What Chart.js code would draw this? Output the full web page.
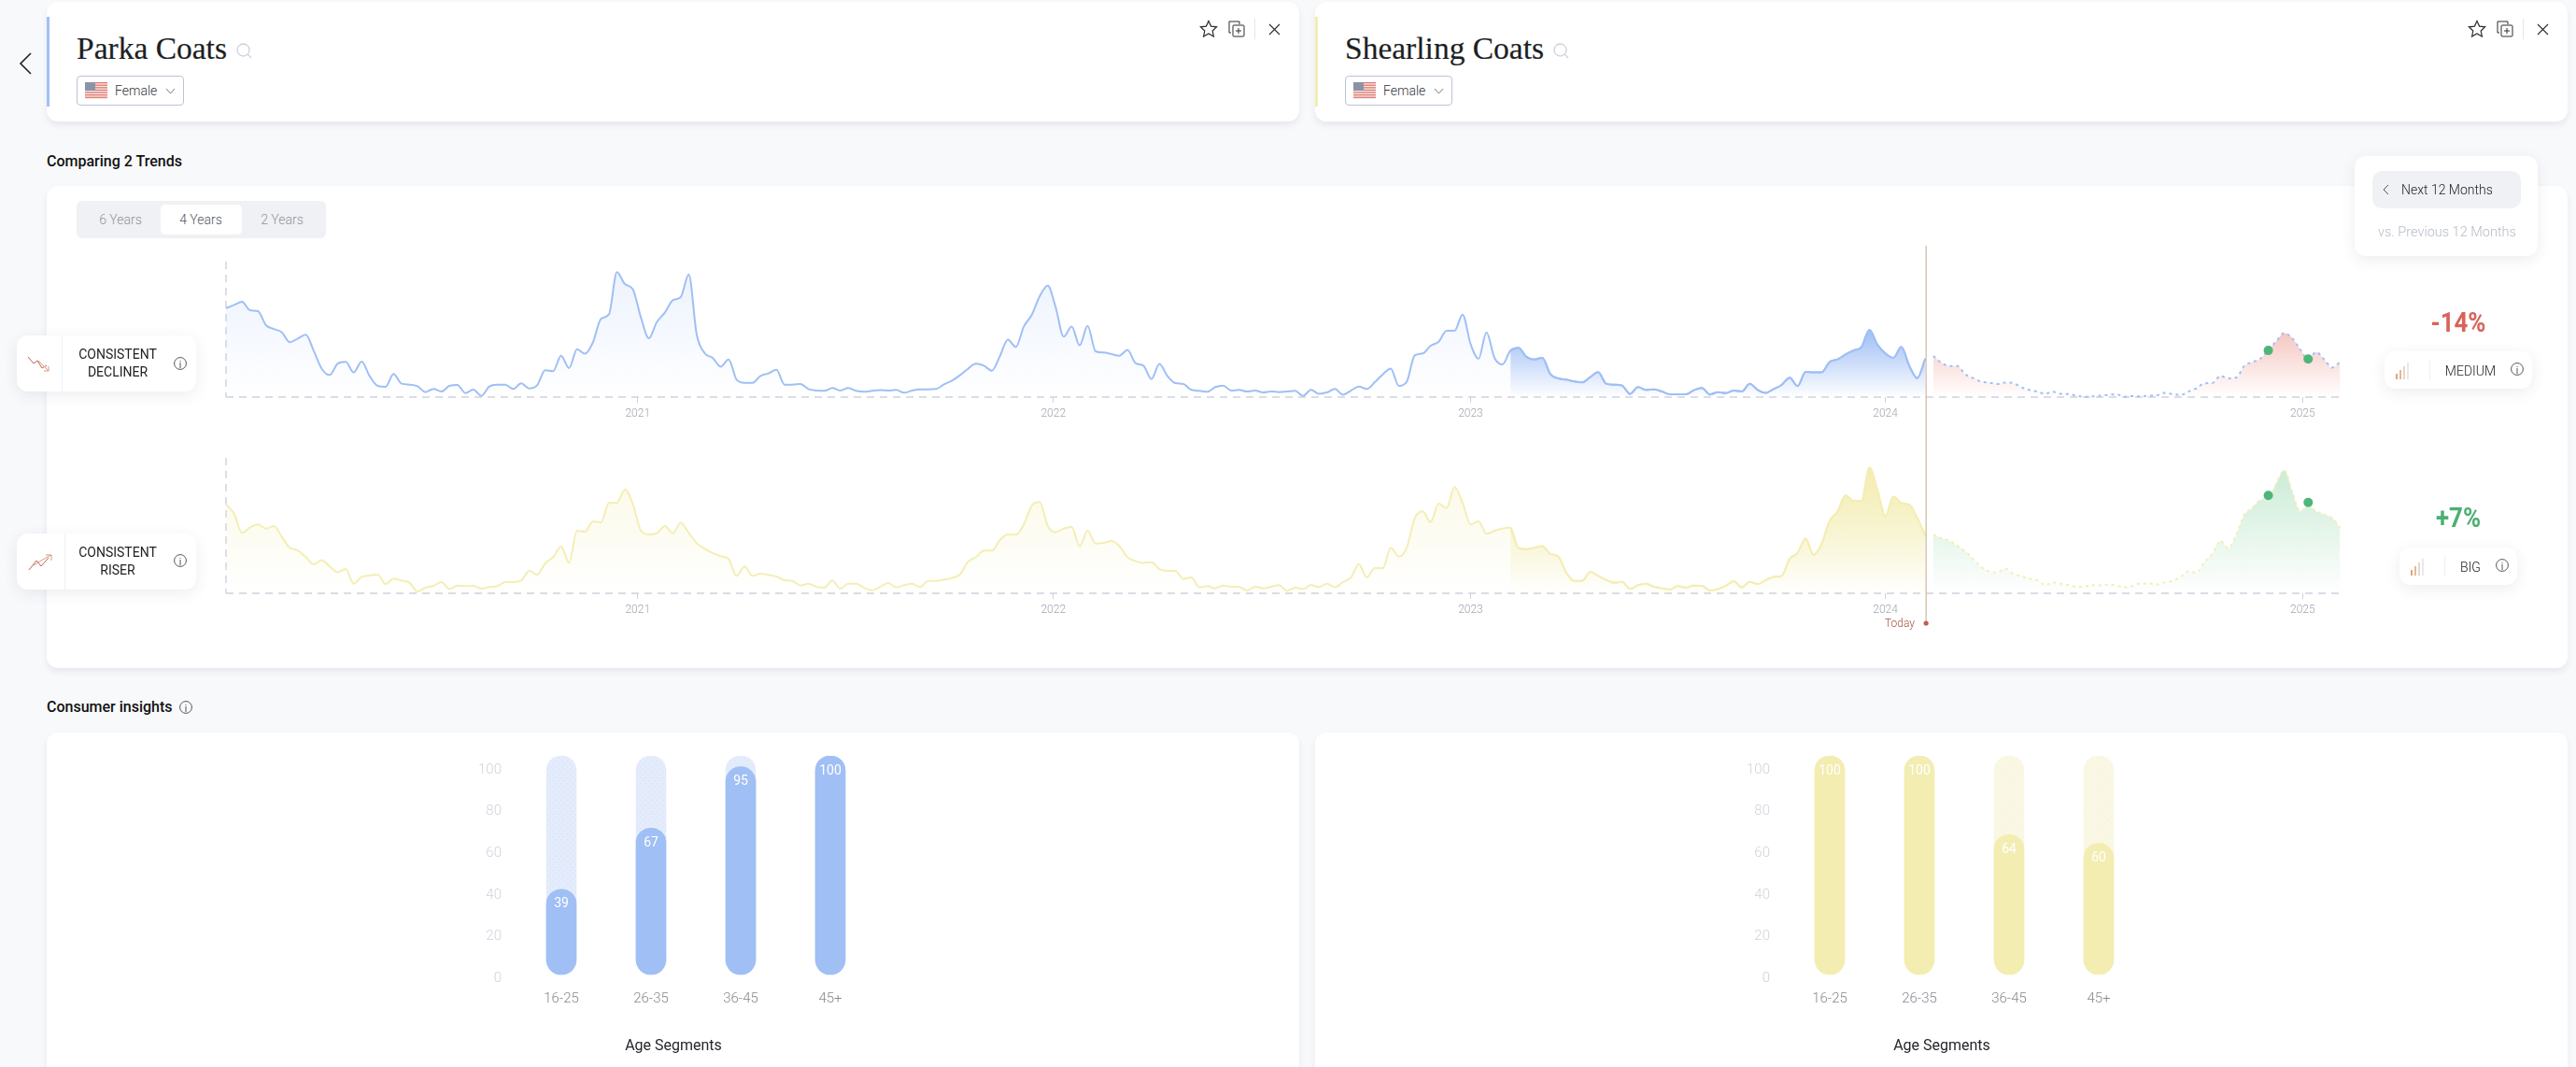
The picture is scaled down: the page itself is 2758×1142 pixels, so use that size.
<!DOCTYPE html>
<html><head><meta charset="utf-8">
<script src="https://cdn.jsdelivr.net/npm/chart.js@4"></script>
<style>
html,body{margin:0;padding:0;width:2758px;height:1142px;overflow:hidden;background:#f8f9fb;font-family:Roboto,sans-serif;color:#222}
.a{position:absolute;white-space:nowrap}
.card{position:absolute;background:#fff;border-radius:12px;box-shadow:0 4px 7px rgba(30,40,70,.08)}
.title{font-family:"Liberation Serif",serif;font-size:33.5px;line-height:40px;color:#1d1f24;-webkit-text-stroke:.2px #1d1f24}
.dd{position:absolute;border:1px solid #bcc3d2;border-radius:4px;box-sizing:border-box;background:#fff}
.t14{font-size:14px;font-weight:300;color:#33363c;line-height:20px}
.dark{font-weight:400;color:#222}
.badge{position:absolute;background:#fff;border-radius:12px;box-shadow:0 4px 16px rgba(40,50,90,.09)}
.ctr{text-align:center;transform:translateX(-50%)}
.pct{font-size:30px;font-weight:700;line-height:34px;transform:translateX(-50%) scaleX(.86)}
canvas{position:absolute}
svg{position:absolute;overflow:visible}
.z{z-index:5}
</style></head><body>

<div class="card" style="left:50px;top:2px;width:1341px;height:128px"></div>
<div class="card" style="left:1408px;top:2px;width:1341px;height:128px"></div>
<div class="card" style="left:50px;top:199px;width:2699px;height:516px"></div>
<div class="card" style="left:50px;top:784px;width:1341px;height:380px"></div>
<div class="card" style="left:1408px;top:784px;width:1341px;height:380px"></div>

<div class="a" style="left:50px;top:18px;width:3px;height:96px;background:#a0bff5"></div>
<div class="a" style="left:1408px;top:18px;width:3px;height:96px;background:#f3edb2"></div>
<svg style="left:20px;top:56px" width="14" height="24" fill="none" stroke="#222" stroke-width="1.6"><path d="M13 1 2 12l11 11"/></svg>

<div class="a title" style="left:82px;top:32px">Parka Coats</div>
<div class="a title" style="left:1440px;top:32px">Shearling Coats</div>
<svg style="left:253px;top:46px" width="17" height="17" fill="none" stroke="#ccd1db" stroke-width="1.3"><circle cx="7.5" cy="7.5" r="6.5"/><path d="m12 12 4 4"/></svg>
<svg style="left:1663px;top:46px" width="17" height="17" fill="none" stroke="#ccd1db" stroke-width="1.3"><circle cx="7.5" cy="7.5" r="6.5"/><path d="m12 12 4 4"/></svg>

<div class="dd" style="left:82px;top:81px;width:115px;height:32px"></div>
<div class="dd" style="left:1440px;top:81px;width:115px;height:32px"></div>
<div id="flags"></div>
<div class="a t14" style="left:123px;top:87px">Female</div>
<div class="a t14" style="left:1481px;top:87px">Female</div>
<svg style="left:177px;top:94px" width="11" height="7" fill="none" stroke="#777" stroke-width="1"><path d="m1 1 4.500 5L10 1"/></svg>
<svg style="left:1535px;top:94px" width="11" height="7" fill="none" stroke="#777" stroke-width="1"><path d="m1 1 4.500 5L10 1"/></svg>
<div id="tools"></div>

<div class="a" style="left:50px;top:163px;font-size:16px;font-weight:500;line-height:20px;color:#111">Comparing 2 Trends</div>

<div class="a" style="left:82px;top:215px;width:267px;height:40px;background:#eff1f4;border-radius:6px"></div>
<div class="a" style="left:172px;top:219px;width:87px;height:32px;background:#fff;border-radius:5px"></div>
<div class="a t14 ctr" style="left:129px;top:225px;color:#8f949d">6 Years</div>
<div class="a t14 ctr" style="left:215px;top:225px;color:#55585f">4 Years</div>
<div class="a t14 ctr" style="left:302px;top:225px;color:#8f949d">2 Years</div>

<canvas id="trendA" width="2758" height="220" style="left:0;top:250px"></canvas>
<canvas id="trendB" width="2758" height="220" style="left:0;top:470px"></canvas>

<div class="a" style="left:1990px;top:658px;width:60px;text-align:right;font-size:12px;font-weight:300;line-height:18px;color:#a8513f">Today</div>

<div class="badge z" style="left:18px;top:359px;width:192px;height:60px"></div>
<div class="a z" style="left:66px;top:359px;width:1px;height:60px;background:#f0f1f4"></div>
<div class="a t14 dark ctr z" style="left:126px;top:370px;line-height:19px;font-size:14px">CONSISTENT<br>DECLINER</div>
<svg class="z" style="left:29px;top:381px;z-index:6" width="28" height="18" fill="none" stroke-width="1"><path d="M1 1l6 7 4-3 5 8 5-3" stroke="#c0604f"/><path d="M12 5l6 6 5 5m0-5v5h-5" stroke="#d79b7e"/></svg>

<div class="badge z" style="left:18px;top:571px;width:192px;height:60px"></div>
<div class="a z" style="left:69px;top:571px;width:1px;height:60px;background:#f0f1f4"></div>
<div class="a t14 dark ctr z" style="left:126px;top:582px;line-height:19px;font-size:14px">CONSISTENT<br>RISER</div>
<svg class="z" style="left:30px;top:593px;z-index:6" width="28" height="18" fill="none" stroke-width="1"><path d="M1 17l8-10 5 6 8-9" stroke="#c0604f"/><path d="M6 12l8-5 7-4 4-2m-6 0h6v6" stroke="#d79b7e"/></svg>

<div class="badge z" style="left:2521px;top:167px;width:196px;height:107px"></div>
<div class="a z" style="left:2540px;top:183px;width:159px;height:40px;background:#eff1f4;border-radius:10px"></div>
<svg class="z" style="left:2551px;top:197px;z-index:6" width="7" height="12" fill="none" stroke="#555" stroke-width="1"><path d="M6 1 1 6l5 5"/></svg>
<div class="a t14 dark z" style="left:2571px;top:193px;z-index:6;font-weight:300">Next 12 Months</div>
<div class="a t14 z" style="left:2546px;top:239px;font-size:14.500px;color:#b6bbc7">vs. Previous 12 Months</div>

<div class="a pct" style="left:2632px;top:328px;color:#d9635a">-14%</div>
<div class="badge" style="left:2553px;top:376px;width:158px;height:40px"></div>
<div class="a" style="left:2601px;top:385px;width:1px;height:22px;background:#eceef1"></div>
<div class="a t14 dark ctr" style="left:2645px;top:387px;font-weight:300">MEDIUM</div>

<div class="a pct" style="left:2632px;top:537px;color:#4caf73">+7%</div>
<div class="badge" style="left:2569px;top:586px;width:126px;height:40px"></div>
<div class="a" style="left:2617px;top:595px;width:1px;height:22px;background:#eceef1"></div>
<div class="a t14 dark ctr" style="left:2645px;top:597px;font-weight:300">BIG</div>
<div id="extras"></div>

<div class="a" style="left:50px;top:747px;font-size:16px;font-weight:500;line-height:20px;color:#111">Consumer insights</div>

<canvas id="ageA" width="432" height="358" style="left:505px;top:784px"></canvas>
<canvas id="ageB" width="432" height="358" style="left:1863px;top:784px"></canvas>

<script>
const yearLabels = ["2021","2022","2023","2024","2025"];
const yearWeeks = [51.6,103.7,156,208,260.3];
const todayWeek = 213.1;
const highlightWeek = 161;
const forecastStart = 214;

const parkaHistory = [65.7,68,70.3,64.1,63.4,53.1,50.3,47.8,40.5,43.2,46,34,20.9,16.3,24.8,26,18.2,26.2,15.6,8.3,
7.6,17,9.9,9.2,8,3.7,6,4.1,8.3,9,3,5.5,.9,7.8,9.2,9.2,6,10.1,6.4,8.7,
19.8,19.1,30.6,21.4,35.4,32,40.5,57.7,61.1,92.2,83.4,79.5,58.9,43.4,55.4,62.3,71.5,73.8,90.6,46.2,
32.4,29,22.5,27.8,12.9,10.6,10.6,15.6,17.5,20.2,9.2,9.2,9.7,6,4.8,4.6,6.7,4.8,6.7,4.6,
3.9,4.6,5.1,4.8,5.3,3.2,4.8,5.7,5.7,6,9.4,12.2,16.1,20.9,24.6,23.2,19.5,30.1,42.5,37,
52,60.7,74.5,82.3,66.2,44.6,52,38.2,52.6,33.8,32.9,31.7,30.6,34.9,25.1,23.2,13.3,24.4,15.6,10.3,
9.7,5.3,4.6,3.9,7.4,8.5,4.8,5.3,4.1,4.8,3.4,4.1,3.7,4.1,4.6,.9,5.3,2.5,3.4,6,
1.8,4.8,7.8,6,11,16.8,21.1,8.3,11.3,30.8,32.2,37.9,40.9,49,49,60.9,39.3,28.3,47.8,29,
24.1,34.3,36.3,29.7,27.8,29,17,13.8,12.9,11.5,10.8,14.7,18.4,9.9,9.2,8.5,2.3,7.4,5.3,5.7,
4.1,2.1,2.1,2.1,5.1,6.8,1.9,3.6,2.9,4.8,4.1,9.9,5.3,3.1,6,9,14.3,8.2,18.6,18.2,
18.2,25.9,27.8,31.5,34.4,37,49.6,38.7,32.2,29,37,23,14,28.3];
const parkaForecast = [30.3,25.4,23,23,16.9,14,11.4,10.7,9.7,10.7,10.4,7.3,5.3,4.1,2.4,3.9,2.4,2.2,1,.2,
.5,1,1.7,1.9,.2,.7,.5,1,1.2,3.1,2.2,1.5,4.1,6.5,10.2,10.4,15.7,13.8,14.5,23,
25.9,28.3,34.6,41.2,47.2,43.6,35.1,28.1,33.2,27.8,21.8,25.9];
const shearlingHistory = [65.7,58.9,44.6,48.5,50.8,47.8,49.7,41.6,33.6,31.7,26.7,21.4,24.4,19.8,15.6,17.9,7.1,12.2,13.1,13.8,
6.9,10.8,9.4,7.8,1.4,4.1,5.5,8.3,3.2,5.7,5.3,5.5,3.4,4.6,5.3,8.3,8.3,9.4,16.6,13.8,
22.1,26.7,34.5,22.5,46.2,45.5,53.1,52.4,66.7,66.9,76.6,65.7,46.2,43.4,44.4,49.7,44.4,52,44.6,37,
32.9,29.7,27.4,25.3,12.9,19.8,12.9,14.5,13.6,12.4,9.7,9.2,5.7,7.1,4.8,4.1,9.4,3.4,7.1,7.1,
4.1,2.1,4.8,7.6,4.4,6,7.1,4.6,9.2,9.2,10.1,11.3,14,23.2,26.7,31.5,31.5,39.3,43.4,43.2,
50.8,64.6,67.4,49.7,45.1,47.8,49,34.7,46.2,36.8,37.2,38.6,34.7,26.7,23.7,22.5,23,17.9,16.6,16.6,
10.6,11.7,4.4,5.3,3.7,5.7,4.8,4.6,2.1,4.8,3.7,4.8,6,1.8,4.1,3.2,6,4.6,7.1,4.6,
8.3,11.7,21.6,11.7,18.6,18.6,33.6,27.1,33.6,55.4,60.5,52.6,66.2,63,78.4,66.9,50.8,53.1,43.9,46.2,
47.8,48.5,33.6,32.6,33.6,34.9,29,27.1,15.2,9.2,9.2,15.9,12.9,9.9,7.8,8.5,3.2,6,7.1,4.8,
3.7,2.8,5.3,4.1,5.7,5.6,1.9,3.1,5.6,9,4.4,8.5,6.8,9.7,12.1,12.8,25.4,29.8,40.4,28.3,
36.3,53.3,60.5,72.2,68.3,68.3,92.7,76.3,56.9,71.4,66.6,65.4,55.7,42.4];
const shearlingForecast = [43.1,40.7,39,35.1,31,25.4,19.4,16.2,15.3,18.2,14.5,12.6,10.9,9.7,6.1,8,7,6.1,4.8,5.1,
6.1,5.8,6.5,5.6,4.4,5.3,7.3,7.3,6.5,8,9.2,12.1,16.2,15.3,23,29.1,38.7,33.2,43.6,58.1,
63,69,70.2,81.1,90.8,75.1,60.5,64.6,60.5,58.1,55.7,48.4];
const markerWeeks = [256,261];
const parkaMarkers = [34.4,28.1];
const shearlingMarkers = [72.2,67.1];

const ageSegments = ["16-25","26-35","36-45","45+"];
const parkaAge = [39,67,95,100];
const shearlingAge = [100,100,64,60];
const ageFull = [100,100,100,100];
const ageTicks = [0,20,40,60,80,100];

Chart.defaults.font.family = "Roboto";
Chart.defaults.animation = false;

function hex(c,a){return `rgba(${c[0]},${c[1]},${c[2]},${a})`}
function vGrad(chart,topValue,rgb,alpha){
  const s=chart.scales.y; if(!s||!chart.chartArea) return hex(rgb,alpha);
  const y0=s.getPixelForValue(topValue),y1=s.getPixelForValue(0);
  if(!isFinite(y0)||!isFinite(y1)) return hex(rgb,alpha);
  const g=chart.ctx.createLinearGradient(0,y0,0,y1);
  g.addColorStop(0,hex(rgb,alpha)); g.addColorStop(1,hex(rgb,0)); return g;
}
function pts(values,start){return values.map((v,i)=>({x:start+i,y:v}))}

function trendChart(id,o){
  const hist=pts(o.history,0);
  new Chart(document.getElementById(id),{
    type:'line',
    data:{datasets:[
      {data:markerWeeks.map((w,i)=>({x:w,y:o.markers[i]})),showLine:false,pointRadius:5,pointBackgroundColor:'#4fb57a',pointBorderWidth:0},
      {data:pts(o.forecast,forecastStart),borderColor:o.line,borderWidth:2,borderDash:[3,4],cubicInterpolationMode:'monotone',pointRadius:0,fill:'origin',
        backgroundColor:c=>vGrad(c.chart,o.fcTop,o.fcRgb,o.fcAlpha)},
      {data:hist.filter(p=>p.x>=highlightWeek),borderColor:o.line,borderWidth:2,cubicInterpolationMode:'monotone',pointRadius:0,fill:'origin',
        backgroundColor:c=>vGrad(c.chart,o.recentTop,o.rgb,o.recentAlpha)},
      {data:hist,borderColor:o.line,borderWidth:2,cubicInterpolationMode:'monotone',pointRadius:0,fill:'origin',
        backgroundColor:c=>vGrad(c.chart,95,o.rgb,o.softAlpha)}
    ]},
    options:{responsive:false,events:[],clip:false,
      layout:{padding:{left:242,right:250,top:o.padTop,bottom:0}},
      plugins:{legend:{display:false},tooltip:{enabled:false}},
      scales:{
        x:{type:'linear',min:0,max:265.3,
          afterBuildTicks:s=>{s.ticks=yearWeeks.map(v=>({value:v}))},
          afterFit:s=>{s.height=o.axisH},
          ticks:{callback:v=>yearLabels[yearWeeks.indexOf(v)],autoSkip:false,maxRotation:0,padding:5,color:'#a0a5b0',font:{size:12,weight:'300'}},
          grid:{drawOnChartArea:false,drawTicks:true,tickLength:6,color:'#cdd2dc'},
          border:{display:false}},
        y:{min:0,max:100,afterFit:s=>{s.width=0},ticks:{display:false},grid:{display:false},border:{display:false}}
      }},
    plugins:[{id:'frame',beforeDatasetsDraw(ch){
      const a=ch.chartArea,y0=ch.scales.y.getPixelForValue(0),x0=ch.scales.x.getPixelForValue(0),c=ch.ctx;
      c.save();c.strokeStyle='#ced2de';c.lineWidth=1.4;c.setLineDash([8,6]);
      c.beginPath();c.moveTo(x0,y0);c.lineTo(a.right,y0);c.moveTo(x0,a.top);c.lineTo(x0,y0);c.stroke();c.restore();
    },afterDatasetsDraw(ch){
      const x=ch.scales.x.getPixelForValue(todayWeek),c=ch.ctx;
      c.save();c.strokeStyle='#cfb7a0';c.lineWidth=1.2;c.beginPath();c.moveTo(x,o.lineFrom);c.lineTo(x,o.lineTo);c.stroke();
      if(o.dot){c.fillStyle='#c0604f';c.beginPath();c.arc(x,o.lineTo,2.6,0,7);c.fill();}
      c.restore();
    }}]
  });
}
trendChart('trendA',{history:parkaHistory,forecast:parkaForecast,markers:parkaMarkers,line:'#a0bff5',rgb:[160,191,245],
  softAlpha:.2,recentTop:50,recentAlpha:1,fcTop:48,fcRgb:[232,120,105],fcAlpha:.42,padTop:30,axisH:45,lineFrom:13,lineTo:220,dot:false});
trendChart('trendB',{history:shearlingHistory,forecast:shearlingForecast,markers:shearlingMarkers,line:'#f4eeb5',rgb:[243,237,178],
  softAlpha:.35,recentTop:92,recentAlpha:1,fcTop:92,fcRgb:[90,195,125],fcAlpha:.32,padTop:20,axisH:55,lineFrom:0,lineTo:197,dot:true});

function dots(base,dot){
  const p=document.createElement('canvas');p.width=p.height=6;const c=p.getContext('2d');
  c.fillStyle=base;c.fillRect(0,0,6,6);c.fillStyle=dot;c.fillRect(0,0,1,1);c.fillRect(3,3,1,1);
  return document.createElement('canvas').getContext('2d').createPattern(p,'repeat');
}
function ageChart(id,vals,fill,bg){
  new Chart(document.getElementById(id),{
    type:'bar',
    data:{labels:ageSegments,datasets:[
      {data:vals,backgroundColor:fill,grouped:false,barThickness:32,borderRadius:16,borderSkipped:false,yAxisID:'y'},
      {data:ageFull,backgroundColor:bg,grouped:false,barThickness:32,borderRadius:16,borderSkipped:false,yAxisID:'y'}
    ]},
    options:{responsive:false,events:[],
      layout:{padding:{left:0,right:0,top:12,bottom:0}},
      plugins:{legend:{display:false},tooltip:{enabled:false},
        title:{display:true,text:'Age Segments',position:'bottom',color:'#24262b',font:{size:16,weight:'400'},padding:{top:0,bottom:12.6}}},
      scales:{
        x:{afterFit:s=>{s.height=60.2},grid:{display:false,drawTicks:false},border:{display:false},
          ticks:{padding:10,color:'#85898f',font:{size:15,weight:'300'}}},
        y:{display:false,min:-2.98,max:100},
        yTicks:{position:'left',min:-1.34,max:106.7,afterFit:s=>{s.width=48},
          afterBuildTicks:s=>{s.ticks=ageTicks.map(v=>({value:v}))},
          grid:{display:false,drawTicks:false},border:{display:false},
          ticks:{padding:16,color:'#cfd3dc',font:{size:15,weight:'300'},callback:v=>String(v)}}
      }},
    plugins:[{id:'vals',afterDatasetsDraw(ch){
      const c=ch.ctx,m=ch.getDatasetMeta(0),s=ch.scales.y;
      c.save();c.fillStyle='#fff';c.font='400 14px Roboto';c.textAlign='center';c.textBaseline='middle';
      vals.forEach((v,i)=>c.fillText(String(v),m.data[i].x,s.getPixelForValue(v)+16));
      c.restore();
    }}]
  });
}
ageChart('ageA',parkaAge,'#a0bff5',dots('#e4ecfc','#d3dff8'));
ageChart('ageB',shearlingAge,'#f3edb2',dots('#faf7e4','#f5f1d6'));

/* decorative icons */
function flag(x,y){
  const stripes=[0,1,2,3,4,5,6].map(i=>`<rect y="${i*2.6}" width="24" height="1.3" fill="#e0766d"/>`).join('');
  return `<svg style="left:${x}px;top:${y}px" width="24" height="18"><rect width="24" height="18" fill="#f5eeee"/>${stripes}<rect width="11" height="9" fill="#8c93a6"/></svg>`;
}
document.getElementById('flags').innerHTML=flag(91,88)+flag(1449,88);
function tools(d){
  return `<svg style="left:${1284+d}px;top:21px" width="20" height="20" fill="none" stroke="#2a2c30" stroke-width="1.2"><path d="M10 1.500l2.600 5.600 6 .7-4.400 4.200 1.200 6L10 15l-5.400 3 1.200-6L1.400 7.800l6-.7z"/></svg>
  <svg style="left:${1315+d}px;top:22px" width="19" height="18" fill="none" stroke="#2a2c30" stroke-width="1"><path d="M3 13H1V1h11v3"/><rect x="5" y="5" width="12" height="12" rx="1"/><path d="M11 8v6M8 11h6"/></svg>
  <div class="a" style="left:${1343+d}px;top:20px;width:1px;height:22px;background:#e4e6ea"></div>
  <svg style="left:${1358+d}px;top:25px" width="13" height="13" fill="none" stroke="#2a2c30" stroke-width="1.1"><path d="m1 1 11 11M12 1 1 12"/></svg>`;
}
document.getElementById('tools').innerHTML=tools(0)+tools(1358);
function info(x,y,r){return `<svg style="left:${x-r}px;top:${y-r}px;z-index:7" width="${2*r}" height="${2*r}" fill="none" stroke="#555" stroke-width="1"><circle cx="${r}" cy="${r}" r="${r-.6}"/><path d="M${r} ${r-1}v${r-1}M${r} ${r-3}v1"/></svg>`}
function bars(x,y){const cs=['#dba87e','#e3b79c','#e6d7cf','#e9e9ec'];return cs.map((c,i)=>`<div class="a" style="left:${x+i*4}px;top:${y-4-i*4}px;width:2px;height:${6+i*4}px;background:${c}"></div>`).join('')}
document.getElementById('extras').innerHTML=info(193,389,7)+info(193,600,7)+info(2695,395,7)+info(2679,605,7)+info(199,757,7)+bars(2565,404)+bars(2581,614);
</script>
</body></html>
